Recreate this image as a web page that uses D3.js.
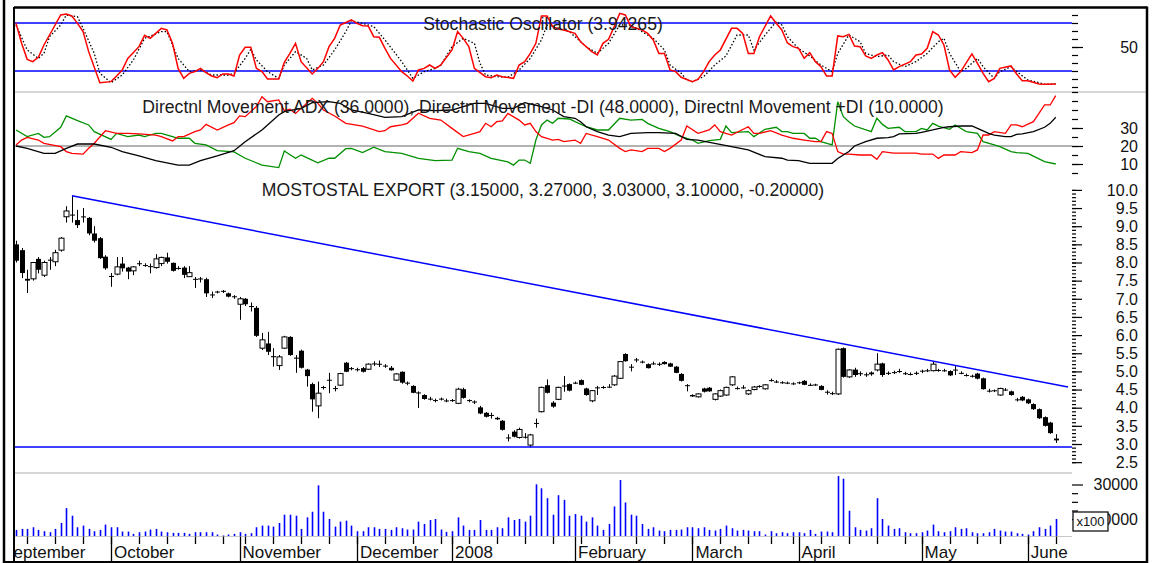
<!DOCTYPE html>
<html>
<head>
<meta charset="utf-8">
<script src="https://cdn.jsdelivr.net/npm/d3@7"></script>
<style>
  body { margin: 0; background: #fff; }
  svg { display: block; font-family: "Liberation Sans", Arial, sans-serif; }
</style>
</head>
<body>
<div id="chart"></div>
<script>
// ---- trading calendar (categories) ----
var firstDay = "2007-09-06", lastDay = "2008-06-09"
var holidays = ["2007-11-01","2007-12-24","2007-12-25","2007-12-26","2007-12-31",
  "2008-01-01","2008-03-21","2008-03-24","2008-05-01","2008-05-02","2008-05-22"]
var monthNames = ["September","October","November","December","2008",
  "February","March","April","May","June"]

// ---- daily prices ----
var opens = [8.50,8.34,7.55,7.55,8.10,7.65,8.05,8.02,8.34,9.26,9.30,9.17,9.25,9.23,8.80,8.67,8.16,
  7.63,7.68,7.97,7.86,7.77,7.96,7.93,7.90,7.86,7.97,8.14,7.99,7.83,7.86,7.61,7.55,7.54,7.54,7.12,7.18,7.20,7.15,7.07,
  6.85,7.00,6.80,6.75,5.64,5.77,5.42,5.16,5.64,5.95,5.38,5.57,5.05,4.65,4.05,4.55,4.75,4.52,4.62,5.24,5.07,
  5.06,5.09,5.06,5.21,5.20,5.15,5.10,4.76,4.99,4.69,4.60,4.42,4.35,4.25,4.20,4.25,4.20,
  4.20,4.12,4.51,4.20,4.17,4.01,3.86,3.80,3.72,3.64,3.17,3.34,3.18,3.20,2.97,3.57,3.89,4.62,4.14,4.23,4.60,4.65,
  4.68,4.76,4.53,4.19,4.55,4.56,4.57,4.63,4.81,5.48,5.12,5.32,5.27,5.20,5.22,5.20,5.26,5.22,5.13,4.93,4.62,
  4.35,4.30,4.53,4.55,4.23,4.32,4.35,4.63,4.53,4.56,4.38,4.50,4.58,4.52,4.75,4.72,4.70,4.69,4.67,
  4.69,4.74,4.63,4.63,4.60,4.44,4.40,4.38,5.64,4.85,5.05,4.95,4.92,4.92,5.04,5.22,4.95,4.97,5.00,4.95,4.93,4.95,
  5.00,5.02,5.02,5.03,5.03,5.01,5.05,4.96,4.90,4.87,4.94,4.81,4.47,4.47,4.35,4.50,4.45,4.23,4.30,
  4.23,4.10,3.96,3.74,3.59,3.15]
var highs = [8.60,8.40,7.80,8.00,8.15,8.05,8.15,8.35,8.70,9.55,9.84,9.45,9.50,9.25,9.00,8.70,8.20,
  7.71,8.15,8.15,7.88,7.90,8.05,7.98,7.97,8.23,8.16,8.27,8.00,7.90,7.90,7.90,7.60,7.60,7.58,7.20,7.22,7.24,7.17,7.10,
  7.05,7.02,6.90,6.80,6.06,6.09,5.64,5.45,5.98,5.97,5.45,5.60,5.07,4.69,4.72,4.60,4.96,4.60,4.96,5.26,5.12,
  5.10,5.12,5.22,5.28,5.30,5.20,5.15,4.95,5.00,4.72,4.62,4.45,4.37,4.30,4.25,4.28,4.25,
  4.24,4.55,4.55,4.23,4.20,4.05,3.88,3.86,3.75,3.66,3.27,3.38,3.45,3.30,3.28,3.70,4.58,4.78,4.18,4.58,4.87,4.67,
  4.72,4.78,4.55,4.48,4.60,4.60,4.65,4.90,5.28,5.50,5.20,5.37,5.30,5.22,5.27,5.25,5.28,5.24,5.15,4.95,4.65,
  4.37,4.40,4.55,4.57,4.40,4.50,4.58,4.87,4.58,4.62,4.50,4.60,4.62,4.65,4.80,4.76,4.73,4.72,4.70,
  4.72,4.76,4.67,4.66,4.62,4.48,4.44,5.63,5.66,5.06,5.10,5.00,4.97,5.00,5.50,5.24,5.00,5.02,5.07,4.99,4.97,5.00,
  5.05,5.07,5.27,5.07,5.07,5.03,5.17,5.00,4.94,4.91,4.96,4.83,4.52,4.50,4.55,4.54,4.47,4.27,4.32,
  4.25,4.12,3.98,3.76,3.61,3.27]
var lows = [8.00,7.57,7.16,7.50,7.70,7.60,7.80,7.90,8.30,9.10,9.10,8.95,9.10,8.75,8.55,8.10,7.80,
  7.33,7.65,7.75,7.54,7.65,7.90,7.88,7.70,7.83,7.90,7.97,7.75,7.80,7.57,7.60,7.30,7.45,7.05,7.02,7.15,7.16,7.04,7.00,
  6.42,6.80,6.65,5.95,5.59,5.45,5.13,5.04,5.62,5.43,4.96,5.08,4.58,3.89,3.71,4.50,4.40,4.45,4.60,4.98,5.03,
  5.00,4.97,5.04,5.15,5.12,5.10,5.02,4.74,4.66,4.62,4.40,3.99,4.22,4.20,4.15,4.20,4.15,
  4.16,4.10,4.25,4.15,4.10,3.82,3.73,3.70,3.66,3.37,3.07,3.18,3.15,3.15,2.91,3.45,3.87,4.39,4.00,4.21,4.44,4.45,
  4.65,4.62,4.33,4.15,4.35,4.52,4.55,4.60,4.79,5.27,5.00,5.25,5.22,5.08,5.18,5.15,5.19,5.12,4.95,4.72,4.45,
  4.30,4.28,4.42,4.44,4.20,4.30,4.33,4.60,4.50,4.52,4.35,4.48,4.55,4.50,4.72,4.68,4.66,4.65,4.63,
  4.65,4.62,4.60,4.60,4.48,4.36,4.35,4.35,4.83,4.82,4.85,4.87,4.85,4.88,5.00,4.85,4.90,4.93,4.96,4.90,4.89,4.90,
  4.95,4.98,5.00,4.99,4.99,4.87,4.90,4.92,4.86,4.83,4.78,4.50,4.42,4.43,4.33,4.46,4.33,4.17,4.18,
  4.10,3.94,3.69,3.48,3.28,3.03]
var closes = [8.05,7.71,7.50,8.00,7.80,8.00,8.08,8.27,8.67,9.42,9.32,9.03,9.27,8.80,8.60,8.12,7.84,
  7.60,7.88,7.84,7.75,7.88,7.98,7.92,7.88,8.10,8.14,8.02,7.77,7.85,7.66,7.72,7.53,7.56,7.15,7.10,7.20,7.22,7.06,7.06,
  7.00,6.85,6.78,5.98,5.87,5.54,5.39,5.40,5.95,5.45,5.35,5.10,4.87,4.23,4.40,4.57,4.77,4.54,4.94,4.99,5.09,
  5.05,4.99,5.20,5.22,5.21,5.16,5.03,4.93,4.69,4.68,4.41,4.40,4.24,4.24,4.21,4.25,4.19,
  4.21,4.51,4.27,4.21,4.16,3.84,3.75,3.79,3.68,3.39,3.18,3.20,3.40,3.19,3.25,3.58,4.56,4.41,4.03,4.56,4.61,4.47,
  4.69,4.63,4.35,4.47,4.56,4.57,4.58,4.87,5.27,5.28,5.13,5.33,5.26,5.09,5.22,5.21,5.20,5.13,4.96,4.74,4.60,
  4.31,4.38,4.44,4.45,4.38,4.47,4.56,4.85,4.54,4.55,4.47,4.57,4.60,4.63,4.76,4.72,4.70,4.68,4.66,
  4.70,4.63,4.62,4.64,4.49,4.43,4.39,5.61,4.85,5.04,4.90,4.94,4.91,4.97,5.20,4.90,4.96,4.98,5.01,4.94,4.92,4.96,
  5.02,5.03,5.20,5.04,5.02,4.89,5.04,4.95,4.90,4.88,4.80,4.51,4.46,4.48,4.53,4.50,4.35,4.22,4.20,
  4.12,3.96,3.71,3.50,3.30,3.10]
var volumes = [3810,4380,4380,5330,3810,3050,2480,4380,7810,16380,11990,5330,6290,4380,3050,3810,6860,
  5330,5330,2860,2860,1520,2480,2860,4000,4380,2860,2480,2100,2100,2100,1520,2480,2480,2480,2480,1140,570,1140,1520,
  2480,1520,1900,5330,6290,6290,5720,7810,12570,12570,12000,4380,11050,14290,29530,14290,10100,5720,8570,9140,6290,
  3050,3050,5330,5330,4380,4380,3810,5330,4760,4000,4000,8570,7240,9530,10100,4000,2670,
  3050,11050,6290,3810,3810,9530,3810,3810,5330,4760,11050,9530,10100,8570,12000,30100,27810,22100,12570,23810,21150,12000,
  12950,12000,8570,11050,6290,3810,7240,17340,32580,19620,12570,12000,7240,4380,5330,3430,3050,3810,3810,4000,5330,
  5330,4760,5330,3810,3430,4380,6290,4760,3430,3810,3430,3050,3050,1140,3050,1900,2480,1900,2480,
  2480,1900,3810,1520,2860,2860,2480,34860,33340,14860,5330,3810,3430,4760,22100,10100,6290,4380,4760,2480,1900,1900,
  2480,3430,6860,3050,2480,3050,5330,4380,4760,2480,1900,1900,2480,4380,3430,2860,2860,1900,1520,
  1140,3050,5330,4380,6290,10100]

// ---- indicators, [day index, value] ----
var stochK = [[0,79.6],[1,54.6],[2,34.6],[3,31.7],[4,37.1],[5,52.5],[6,65],[7,77.5],[8,90],[9,91.3],[10,88.8],[11,79.6],[12,69.2],[13,44.2],[15,5.4],[17,6.7],[18,13.8],[19,21.3],[20,35.8],[22,50.4],[23,64.6],[24,60.8],[25,67],[26,73.3],[27,71.3],[28,54.6],[29,23.3],[30,10.8],[31,17.1],[32,19.2],[33,23.3],[34,17.9],[35,13.8],[36,11.7],[37,16.3],[38,16.3],[39,13.8],[40,40],[41,49.6],[42,49.6],[43,23.3],[44,19.2],[45,10],[47,10],[48,30.8],[49,42],[50,54.6],[51,31.7],[53,16.3],[54,23.3],[55,31.7],[56,50.4],[57,60.8],[58,77.5],[60,83.8],[61,79.6],[62,76.7],[63,76.3],[64,62.9],[65,62.1],[66,48.4],[67,35.8],[69,19.2],[70,13.8],[71,7.5],[72,21.3],[73,23.3],[74,27.5],[75,23.3],[76,27.5],[78,46.3],[79,69.2],[80,60.8],[81,50.4],[82,23.3],[84,12.9],[85,11.7],[86,15],[87,12.9],[89,10.8],[90,27.5],[91,31.7],[92,42],[93,54.6],[94,88.8],[95,88.8],[96,75.4],[97,72.5],[98,71.3],[100,67],[101,56.6],[103,44.2],[104,40],[105,54.6],[106,59.6],[107,75.4],[108,92],[109,90],[110,75.4],[112,71.3],[113,67],[114,58.8],[115,42],[116,42],[117,21.3],[118,19.2],[119,12.1],[121,6.7],[122,9.6],[123,19.2],[124,31.7],[125,40],[126,46.3],[128,73.3],[129,73.3],[130,67],[131,42],[132,42],[133,62.9],[135,88.8],[136,79.6],[137,71.3],[138,55],[139,50.4],[140,48.4],[141,35.8],[142,42.9],[143,31.7],[144,25.4],[145,13.8],[146,13.8],[147,63.8],[148,62.9],[149,65.8],[150,51.3],[151,50.4],[152,38.8],[153,35.8],[154,40],[155,42.9],[156,33.8],[157,21.3],[158,25.4],[160,31.7],[161,40],[162,41.3],[163,48.4],[164,69.2],[165,65],[166,52.5],[167,21.3],[168,12.1],[169,19.2],[171,41.3],[172,29.6],[173,17.1],[174,6.7],[175,10.8],[176,23.3],[178,26.3],[179,16.3],[180,7.9],[181,7.9],[183,3.8],[184,3.4],[186,3.9]]
var stochD = [[0,77.5],[2,46.3],[4,35.8],[5,42],[6,62.9],[8,77.5],[9,90],[11,87.9],[12,73.3],[14,42],[15,17.1],[17,5.4],[19,15],[21,33.8],[23,60.8],[26,69.2],[27,69.2],[29,35.8],[31,19.2],[33,21.3],[35,15],[38,15],[39,17.1],[41,35.8],[42,47.1],[43,33.8],[45,19.2],[47,10.8],[48,27.5],[50,44.2],[52,35.8],[53,21.3],[55,27.5],[57,46.3],[59,69.2],[60,82.9],[62,79.6],[64,75.4],[66,58.8],[69,31.7],[71,10.8],[73,19.2],[75,23.3],[76,27.5],[78,50.4],[80,60.8],[82,54.6],[83,29.6],[84,15],[86,12.9],[88,12.1],[90,21.3],[92,35.8],[94,58.8],[95,77.5],[97,73.3],[99,69.2],[102,50.4],[104,42],[106,54.6],[108,77.5],[110,77.5],[112,69.2],[114,60.8],[116,46.3],[117,27.5],[119,17.1],[120,8.8],[121,6.7],[123,12.9],[125,27.5],[127,38.8],[129,65],[131,65],[132,46.3],[134,65],[136,81.7],[137,77.5],[138,62.9],[140,48],[142,38.8],[144,27.5],[146,19.2],[147,42],[149,65],[151,56.6],[152,42],[154,37.9],[156,40],[157,31.7],[159,25.4],[161,31.7],[163,42],[165,56.6],[166,60.8],[167,42],[169,19.2],[170,23.3],[172,35.8],[173,25.4],[175,10.8],[176,19.2],[178,25.4],[179,19.2],[181,8.8],[183,5.4],[184,3.4],[186,3.8]]
var plusDI = [[0,28.9],[2,25.2],[4,27],[5,24.8],[6,25.2],[8,30.4],[9,36.7],[11,34.1],[13,31.7],[14,28],[17,23.7],[18,27],[20,25.2],[22,26.1],[23,25.2],[25,27],[26,27],[28,25.2],[29,24.3],[31,24.3],[32,21.5],[34,20.6],[36,17.4],[39,16.7],[41,13.2],[44,9.4],[47,8],[48,17.2],[50,13.2],[51,15],[52,13.5],[54,10.7],[56,13.2],[57,13.2],[59,18.5],[60,18.7],[62,16.3],[64,19.3],[66,16.9],[69,15.9],[72,13.1],[75,11.9],[78,12.2],[79,18.7],[81,16.9],[83,15.9],[85,13.1],[88,11.2],[89,9.4],[90,12.2],[91,12.2],[92,10.4],[93,23.3],[94,31.7],[95,34.4],[96,32.6],[97,35.4],[99,35],[100,33.5],[102,30.7],[104,28.9],[106,28.9],[108,35.4],[110,34.4],[112,34.8],[113,32.6],[115,29.8],[117,28],[119,25.2],[121,23.3],[122,21.5],[124,23],[126,23.7],[127,31.1],[128,27.4],[131,28],[132,25.2],[134,29.3],[136,30.4],[137,28],[138,28],[139,27],[141,27],[142,24.3],[143,24.3],[144,22.4],[146,20.6],[147,44.6],[148,36.3],[149,33.5],[150,31.1],[153,28],[154,35.4],[155,32],[156,29.8],[158,30.4],[159,28],[161,28],[162,29.8],[163,28.9],[164,32.6],[165,31.1],[167,29.3],[168,31.7],[170,28],[172,27],[173,22.4],[175,20.6],[176,19.6],[178,16.9],[179,16.3],[181,15.9],[182,14.4],[184,11.3],[186,10]]
var minusDI = [[0,20.6],[1,23.3],[2,24.8],[4,23.3],[5,21.5],[8,19.6],[9,16.9],[10,15.9],[12,15.5],[13,18.7],[14,21.5],[16,28.5],[18,27],[20,27],[22,26.7],[25,26.1],[26,25.2],[28,22.8],[29,25.2],[30,25.2],[32,28],[33,28.9],[34,32],[36,28.9],[38,31.7],[39,33],[40,36.7],[41,36.3],[43,41.9],[44,47.4],[45,44.6],[47,45.6],[48,39.6],[49,40.4],[50,38.1],[51,40.9],[53,46.5],[54,43.7],[55,40],[57,36.7],[59,32.6],[62,31.1],[65,28],[66,28.5],[67,30.7],[69,31.7],[70,32.6],[71,35.4],[72,38.2],[74,35.4],[76,34.4],[78,29.8],[80,25.2],[82,27],[83,28],[84,32.6],[85,30.7],[86,33.5],[87,33.9],[88,38.1],[90,34.4],[91,31.7],[92,32.6],[93,28],[94,25.2],[96,23.3],[97,23.7],[98,22.4],[100,23.3],[101,21.5],[102,27],[104,25.2],[106,23.3],[108,18.7],[109,16.9],[110,17.8],[112,16.9],[113,18.7],[115,18.7],[116,16.9],[117,18.7],[119,23.3],[120,31.1],[122,27],[124,28.9],[125,31.7],[126,28],[127,27],[128,26.1],[131,30.7],[132,27],[133,27],[135,28.5],[137,26.1],[139,24.3],[141,23.3],[143,22.4],[144,22.4],[145,28],[146,27],[147,16.9],[148,15.5],[149,15.5],[151,15],[153,15],[154,12.6],[155,16.9],[157,16],[159,16],[161,16],[162,15.5],[164,15.5],[165,13.1],[166,15],[168,15],[169,16.9],[171,16.3],[172,17.8],[173,26.1],[174,26.1],[175,28],[177,27],[178,31.7],[179,31.7],[180,30.7],[182,33.5],[183,38.1],[184,42.8],[185,42.8],[186,48]]
var adx = [[0,20],[2,18.7],[5,15.9],[7,15.9],[9,18.7],[11,21.1],[14,21.1],[17,19.3],[19,16.9],[22,14.5],[25,11.9],[29,9.4],[31,9.4],[33,11.9],[36,14.5],[39,17.4],[41,22.4],[44,28.9],[47,37.2],[48,39.1],[51,40.9],[53,44.1],[56,44.6],[58,43.7],[60,40],[63,38.1],[66,35.9],[69,36.3],[72,40],[75,39.6],[78,40],[80,41.9],[82,43.7],[84,43.7],[87,40.9],[89,40.9],[91,44.1],[94,41.9],[96,40],[98,36.3],[100,35.4],[101,33.5],[102,30.7],[104,28],[106,26.1],[108,25.2],[110,27],[113,27.4],[115,27.4],[118,27],[120,23.7],[122,23.3],[125,21.5],[128,19.6],[131,17.8],[134,14.1],[137,13.2],[138,12.2],[140,11.9],[142,10.4],[144,10.4],[146,10.4],[147,13.1],[149,16.9],[150,20],[152,22.4],[154,24.3],[156,24.6],[157,25.2],[158,26.7],[161,27],[162,27.6],[164,28.9],[166,30.4],[167,30.7],[169,31.1],[171,31.1],[172,29.8],[174,27],[175,26.1],[177,25.2],[178,25.2],[179,26.5],[180,26.7],[182,28],[184,30.4],[185,32.6],[186,36]]

// ---- drawn studies ----
var trendLine = [[10, 9.84], [188.2, 4.57]]
var supportLevel = 2.92
var stochBands = [20, 80]
var dmiLevel = 20

var stochTitle = "Stochastic Oscillator (3.94265)"
var dmiTitle = "Directnl Movement ADX (36.0000), Directnl Movement -DI (48.0000), Directnl Movement +DI (10.0000)"
var priceTitle = "MOSTOSTAL EXPORT (3.15000, 3.27000, 3.03000, 3.10000, -0.20000)"

// ---------------------------------------------------------------
var W = 1154, H = 563
var plotL = 14, plotR = 1072, frameR = 1147
var labelX = 1138
var titleSize = 17.6

// build trading days
var fmt = d3.utcFormat("%Y-%m-%d")
var hol = new Set(holidays)
var days = d3.utcDay.range(new Date(firstDay + "T00:00Z"), d3.utcDay.offset(new Date(lastDay + "T00:00Z"), 1))
  .filter(function(d) { var w = d.getUTCDay(); return w != 0 && w != 6 && !hol.has(fmt(d)) })

var x = d3.scaleLinear().domain([0, days.length - 1]).range([16, 16 + (days.length - 1) * 5.59])

var yS = d3.scaleLinear().domain([0, 100]).range([87, 7])
var yD = d3.scaleLinear().domain([0, 50]).range([182, 92])
var yP = d3.scaleLinear().domain([3, 10]).range([444, 189.9])
var yV = d3.scaleLinear().domain([0, 30000]).range([536.5, 484.5])

var svg = d3.select("#chart").append("svg").attr("width", W).attr("height", H)

svg.append("defs").append("clipPath").attr("id", "plotclip")
  .append("rect").attr("x", plotL).attr("y", 8).attr("width", plotR - plotL).attr("height", 528)

// gray separators
svg.append("line").attr("x1", plotL).attr("x2", frameR).attr("y1", 92).attr("y2", 92)
  .attr("stroke", "#c8c8c8").attr("stroke-width", 1.5)
svg.append("line").attr("x1", plotL).attr("x2", plotR).attr("y1", 473).attr("y2", 473)
  .attr("stroke", "#c8c8c8").attr("stroke-width", 1.5)
svg.append("line").attr("x1", plotL).attr("x2", plotR).attr("y1", 536.5).attr("y2", 536.5)
  .attr("stroke", "#c8c8c8").attr("stroke-width", 1.2)

var plot = svg.append("g").attr("clip-path", "url(#plotclip)")

// ---- titles ----
var midX = (plotL + plotR) / 2
svg.append("text").attr("x", midX).attr("y", 29.5).attr("text-anchor", "middle")
  .attr("font-size", titleSize).attr("fill", "#1a1a1a").text(stochTitle)
svg.append("text").attr("x", midX).attr("y", 113).attr("text-anchor", "middle")
  .attr("font-size", titleSize).attr("fill", "#1a1a1a").text(dmiTitle)
svg.append("text").attr("x", midX).attr("y", 196).attr("text-anchor", "middle")
  .attr("font-size", titleSize).attr("fill", "#1a1a1a").text(priceTitle)

// ---- stochastic ----
plot.selectAll(".sband").data(stochBands).enter().append("line")
  .attr("x1", plotL).attr("x2", plotR)
  .attr("y1", function(d) { return yS(d) }).attr("y2", function(d) { return yS(d) })
  .attr("stroke", "#0000ff").attr("stroke-width", 1.5)

var lineS = d3.line().x(function(d) { return x(d[0]) }).y(function(d) { return yS(d[1]) })
plot.append("path").datum(stochD).attr("d", lineS).attr("fill", "none")
  .attr("stroke", "#000").attr("stroke-width", 1.3).attr("stroke-dasharray", "1.5,2")
plot.append("path").datum(stochK).attr("d", lineS).attr("fill", "none")
  .attr("stroke", "#ff0000").attr("stroke-width", 1.5)

// ---- DMI ----
plot.append("line").attr("x1", plotL).attr("x2", plotR)
  .attr("y1", yD(dmiLevel)).attr("y2", yD(dmiLevel))
  .attr("stroke", "#999").attr("stroke-width", 1.5)

var lineD = d3.line().x(function(d) { return x(d[0]) }).y(function(d) { return yD(d[1]) })
plot.append("path").datum(plusDI).attr("d", lineD).attr("fill", "none")
  .attr("stroke", "#009000").attr("stroke-width", 1.3)
plot.append("path").datum(minusDI).attr("d", lineD).attr("fill", "none")
  .attr("stroke", "#ff0000").attr("stroke-width", 1.3)
plot.append("path").datum(adx).attr("d", lineD).attr("fill", "none")
  .attr("stroke", "#000").attr("stroke-width", 1.3)

// ---- price ----
var candles = days.map(function(d, i) {
  return { i: i, o: opens[i], h: highs[i], l: lows[i], c: closes[i] }
})
function hollow(d) { return d.c > d.o && (yP(d.o) - yP(d.c)) > 2 }

var cg = plot.append("g")
cg.selectAll(".wick").data(candles).enter().append("line")
  .attr("x1", function(d) { return Math.round(x(d.i)) + 0.5 })
  .attr("x2", function(d) { return Math.round(x(d.i)) + 0.5 })
  .attr("y1", function(d) { return yP(d.h) }).attr("y2", function(d) { return yP(d.l) })
  .attr("stroke", "#000").attr("stroke-width", 1)

cg.selectAll(".body").data(candles).enter().append("rect")
  .attr("x", function(d) { return Math.round(x(d.i)) - 2 })
  .attr("width", 5)
  .attr("y", function(d) { return yP(Math.max(d.o, d.c)) })
  .attr("height", function(d) { return Math.max(1, Math.abs(yP(d.o) - yP(d.c))) })
  .attr("fill", function(d) { return hollow(d) ? "#fff" : "#000" })
  .attr("stroke", "#000").attr("stroke-width", function(d) { return hollow(d) ? 1 : 0 })

// trend + support lines
plot.append("line")
  .attr("x1", x(trendLine[0][0])).attr("y1", yP(trendLine[0][1]))
  .attr("x2", x(trendLine[1][0])).attr("y2", yP(trendLine[1][1]))
  .attr("stroke", "#0000ff").attr("stroke-width", 1.5)
plot.append("line").attr("x1", plotL).attr("x2", plotR)
  .attr("y1", yP(supportLevel)).attr("y2", yP(supportLevel))
  .attr("stroke", "#0000ff").attr("stroke-width", 1.5)

// ---- volume ----
plot.selectAll(".vol").data(volumes).enter().append("line")
  .attr("x1", function(d, i) { return Math.round(x(i)) + 0.5 })
  .attr("x2", function(d, i) { return Math.round(x(i)) + 0.5 })
  .attr("y1", yV(0)).attr("y2", function(d) { return yV(d) })
  .attr("stroke", "#0000ff").attr("stroke-width", 1.6)

// ---- right axes ----
function rightAxis(scale, values, size) {
  svg.append("g").attr("transform", "translate(" + plotR + ",0)")
    .call(d3.axisRight(scale).tickValues(values).tickSize(size).tickFormat(""))
    .call(function(g) { g.select(".domain").remove() })
    .call(function(g) { g.selectAll("line").attr("stroke", "#000").attr("stroke-width", 1.2) })
}
function rightLabels(scale, values, f) {
  svg.append("g").selectAll("text").data(values).enter().append("text")
    .attr("x", labelX).attr("y", function(d) { return scale(d) })
    .attr("dy", "0.36em").attr("text-anchor", "end").attr("font-size", 16).attr("fill", "#111")
    .text(f)
}

rightAxis(yS, d3.range(0, 100, 10), 6)
rightAxis(yS, [50], 11)
rightLabels(yS, [50], function(d) { return d })

rightAxis(yD, d3.range(5, 51, 5), 6)
rightAxis(yD, [10, 20, 30], 11)
rightLabels(yD, [10, 20, 30], function(d) { return d })

rightAxis(yP, d3.range(25, 101, 1).map(function(v) { return v / 10 }), 4)
rightAxis(yP, d3.range(5, 21, 1).map(function(v) { return v / 2 }), 10)
rightLabels(yP, d3.range(5, 21, 1).map(function(v) { return v / 2 }), d3.format(".1f"))

rightAxis(yV, [15000, 20000, 25000], 6)
rightAxis(yV, [10000, 30000], 11)
rightLabels(yV, [10000, 30000], function(d) { return d })

// x100 multiplier box (sits over the start of the 10000 label, as in the source)
svg.append("rect").attr("x", 1073).attr("y", 512).attr("width", 35).attr("height", 19)
  .attr("fill", "#fff").attr("stroke", "#000").attr("stroke-width", 1.2)
svg.append("text").attr("x", 1090.5).attr("y", 526).attr("text-anchor", "middle")
  .attr("font-size", 13).attr("fill", "#111").text("x100")

// ---- time axis ----
var monthStarts = [], weekStarts = []
days.forEach(function(d, i) {
  if (i > 0 && d.getUTCMonth() != days[i - 1].getUTCMonth()) monthStarts.push(i)
  if (i > 0 && d.getUTCDay() < days[i - 1].getUTCDay()) weekStarts.push(i)
})
// weekdays of the first month before the first bar (its label starts there)
var lead = d3.utcDay.range(d3.utcMonth.floor(days[0]), days[0])
  .filter(function(d) { var w = d.getUTCDay(); return w != 0 && w != 6 }).length

var xg = svg.append("g")
xg.selectAll(".wk").data(weekStarts).enter().append("line")
  .attr("x1", function(i) { return Math.round(x(i)) + 0.5 }).attr("x2", function(i) { return Math.round(x(i)) + 0.5 })
  .attr("y1", 536.5).attr("y2", 544).attr("stroke", "#000").attr("stroke-width", 1.3)
xg.selectAll(".ms").data(monthStarts).enter().append("line")
  .attr("x1", function(i) { return Math.round(x(i)) + 0.5 }).attr("x2", function(i) { return Math.round(x(i)) + 0.5 })
  .attr("y1", 536.5).attr("y2", 562).attr("stroke", "#000").attr("stroke-width", 1.3)

var labelPos = [-lead].concat(monthStarts)
svg.append("clipPath").attr("id", "axclip").append("rect")
  .attr("x", plotL + 1).attr("y", 537).attr("width", plotR - plotL).attr("height", 26)
svg.append("g").attr("clip-path", "url(#axclip)")
  .selectAll("text").data(labelPos).enter().append("text")
  .attr("x", function(i) { return x(i) + 3 }).attr("y", 558)
  .attr("font-size", 17).attr("fill", "#111")
  .text(function(i, k) { return monthNames[k] })

// ---- frame ----
svg.append("line").attr("x1", 4).attr("x2", 4).attr("y1", 0).attr("y2", H)
  .attr("stroke", "#000").attr("stroke-width", 2.5)
svg.append("line").attr("x1", plotL).attr("x2", plotL).attr("y1", 7).attr("y2", 562)
  .attr("stroke", "#000").attr("stroke-width", 2)
svg.append("line").attr("x1", plotL).attr("x2", frameR).attr("y1", 7.5).attr("y2", 7.5)
  .attr("stroke", "#000").attr("stroke-width", 2.5)
svg.append("line").attr("x1", frameR).attr("x2", frameR).attr("y1", 6.5).attr("y2", 563)
  .attr("stroke", "#000").attr("stroke-width", 2.5)
svg.append("line").attr("x1", 4).attr("x2", frameR).attr("y1", 562).attr("y2", 562)
  .attr("stroke", "#000").attr("stroke-width", 2)
</script>
</body>
</html>
